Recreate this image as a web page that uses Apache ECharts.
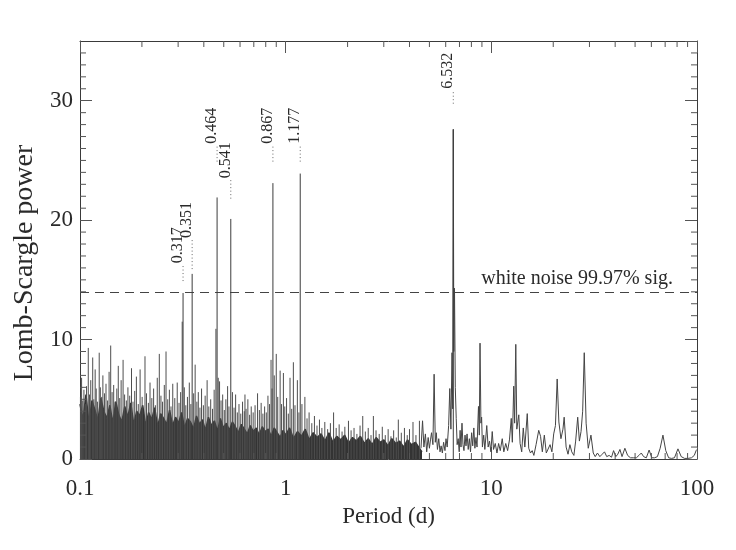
<!DOCTYPE html>
<html><head><meta charset="utf-8">
<script src="https://cdn.jsdelivr.net/npm/echarts@6/dist/echarts.min.js"></script>
<style>html,body{margin:0;padding:0;background:#fff}#c{width:736px;height:550px}</style>
</head><body><div id="c"></div>
<script>
// ---------------- data ----------------
const xTickLabels = ['0.1', '1', '10', '100'];
const yTickLabels = ['0', '10', '20', '30'];
const xMinorTicks = [0.2,0.3,0.4,0.5,0.6,0.7,0.8,0.9,2,3,4,5,6,7,8,9,20,30,40,50,60,70,80,90];
const yMinorTicks = [1,2,3,4,5,6,7,8,9,11,12,13,14,15,16,17,18,19,21,22,23,24,25,26,27,28,29,31,32,33,34];

// dense dark core of the periodogram (top of the solid band)
const bandPeriod = [0.1,0.1034,0.1069,0.1105,0.1143,0.1182,0.1222,0.1263,0.1306,0.1351,0.1397,0.1444,0.1493,0.1544,0.1597,0.1651,0.1707,0.1765,0.1825,0.1887,0.1951,0.2018,0.2086,0.2157,0.2231,0.2307,0.2385,0.2466,0.255,0.2637,0.2727,0.282,0.2915,0.3015,0.3117,0.3223,0.3333,0.3446,0.3563,0.3684,0.381,0.3939,0.4073,0.4212,0.4355,0.4503,0.4657,0.4815,0.4979,0.5148,0.5324,0.5505,0.5692,0.5886,0.6086,0.6293,0.6507,0.6729,0.6958,0.7194,0.7439,0.7692,0.7954,0.8225,0.8505,0.8794,0.9094,0.9403,0.9723,1.0,1.045,1.092,1.141,1.193,1.246,1.302,1.361,1.422,1.486,1.553,1.623,1.696,1.772,1.852,1.935,2.022,2.113,2.208,2.308,2.411,2.52,2.633,2.752,2.876,3.005,3.14,3.282,3.429,3.584,3.745,3.913,4.089,4.273,4.466,4.6];
const bandPower = [4.6,3.3,5.4,3.0,4.9,4.1,3.2,5.1,4.0,3.4,
  4.5,3.0,4.8,3.7,3.1,4.4,3.5,4.7,2.9,4.0,
  3.6,4.5,2.8,3.9,3.3,4.3,2.7,3.8,3.4,2.9,
  4.1,2.8,3.5,3.0,3.9,2.6,3.4,3.1,2.5,3.6,
  2.9,3.3,2.4,3.5,2.8,3.2,2.3,3.4,2.6,3.0,
  2.4,3.1,2.7,2.2,2.9,2.5,2.1,2.8,2.3,2.6,
  2.0,2.7,2.3,2.5,1.9,2.6,2.2,1.8,2.4,
  2.0,2.6,1.7,2.3,1.9,2.5,1.6,2.2,1.8,2.1,
  1.5,2.2,1.4,1.9,1.6,2.0,1.3,1.8,1.5,1.9,
  1.3,1.7,1.2,1.8,1.4,1.6,1.1,1.7,1.3,1.5,
  1.0,1.6,1.2,1.4,0.9,0.6];

// individual noise spikes above the band
const noisePeriod = [0.1005,0.1018,0.1031,0.1045,0.1062,0.1076,0.1097,0.1112,0.1128,0.1153,0.1167,0.1185,0.1199,0.1215,0.124,0.1256,0.1275,0.1292,0.1315,0.1338,0.1362,0.1385,0.141,0.1432,0.1458,0.148,0.151,0.1535,0.156,0.1585,0.162,0.1648,0.168,0.171,0.1745,0.178,0.181,0.1845,0.188,0.192,0.196,0.2005,0.207,0.2105,0.215,0.219,0.2235,0.228,0.2325,0.2375,0.243,0.2475,0.252,0.257,0.262,0.267,0.272,0.277,0.2825,0.289,0.297,0.303,0.3085,0.314,0.3215,0.327,0.333,0.34,0.346,0.357,0.363,0.37,0.376,0.383,0.39,0.398,0.406,0.415,0.423,0.432,0.441,0.449,0.458,0.47,0.477,0.485,0.494,0.503,0.512,0.522,0.53,0.551,0.561,0.571,0.582,0.593,0.605,0.617,0.629,0.634,0.642,0.655,0.668,0.68,0.695,0.71,0.73,0.745,0.76,0.775,0.79,0.805,0.82,0.835,0.849,0.858,0.88,0.9,0.915,0.94,0.955,0.975,0.99,1.01,1.03,1.05,1.07,1.09,1.11,1.14,1.16,1.2,1.24,1.27,1.3,1.34,1.38,1.42,1.46,1.5,1.55,1.6,1.65,1.71,1.76,1.82,1.88,1.94,2.02,2.08,2.15,2.22,2.3,2.37,2.44,2.52,2.6,2.67,2.75,2.85,2.95,3.05,3.15,3.25,3.35,3.45,3.53,3.65,3.78,3.9,4.0,4.16,4.3,4.47];
const noisePower = [5.2,6.8,4.9,5.8,4.6,6.1,9.3,5.4,6.6,8.5,5.0,7.5,5.9,4.8,8.9,6.0,5.2,7.0,5.5,6.3,4.9,7.3,9.5,5.6,6.2,4.8,5.9,7.8,5.1,6.6,8.3,5.4,4.9,6.0,5.3,7.6,4.8,5.7,6.9,4.6,7.5,5.2,8.6,5.5,4.7,6.4,5.1,5.9,4.5,6.8,8.8,5.3,4.8,6.2,9.0,5.0,5.8,4.4,6.3,5.1,6.4,4.7,5.6,11.5,6.0,4.5,5.2,6.4,4.6,5.5,7.9,4.8,5.6,4.3,5.9,4.5,5.3,6.6,4.4,5.0,4.2,5.8,10.9,6.8,6.5,4.9,5.4,4.1,5.0,6.1,4.4,5.6,4.3,5.4,3.9,4.6,3.8,4.8,4.0,5.4,4.2,5.0,3.7,4.4,3.9,4.5,5.5,4.1,4.7,3.8,4.4,3.9,5.3,4.6,8.3,5.9,7.0,8.8,5.2,7.4,4.6,7.2,4.4,5.1,3.8,6.8,4.2,8.1,4.5,6.6,3.9,4.6,5.2,3.4,3.9,3.0,3.6,2.8,3.3,2.6,3.1,2.5,3.0,3.9,2.6,2.9,2.3,2.7,3.2,2.4,2.6,2.1,2.8,3.6,2.3,2.6,2.0,3.6,2.4,2.1,2.7,2.0,2.5,1.9,2.4,1.8,3.3,2.2,2.6,2.0,2.5,3.1,2.0,3.2];

// long-period part, resolved as a line
const linePeriod = [4.55,4.63,4.7,4.78,4.85,4.93,5.0,5.06,5.12,5.2,5.27,5.34,5.4,5.47,5.55,5.63,5.7,5.78,5.86,5.95,6.02,6.1,6.2,6.28,6.36,6.44,6.49,6.532,6.57,6.62,6.68,6.75,6.82,6.9,6.98,7.05,7.12,7.2,7.28,7.36,7.45,7.53,7.62,7.72,7.82,7.92,8.02,8.12,8.22,8.32,8.42,8.52,8.66,8.74,8.81,8.9,8.97,9.05,9.18,9.3,9.5,9.65,9.8,9.95,10.1,10.25,10.45,10.65,10.85,11.05,11.3,11.5,11.75,12.0,12.25,12.5,12.65,12.85,12.98,13.15,13.3,13.6,13.8,14.05,14.3,14.55,14.95,15.2,15.5,15.8,16.1,16.5,17.0,17.35,17.7,18.1,18.5,18.9,19.3,19.7,20.1,20.5,20.9,21.3,21.8,22.3,22.6,23.1,23.6,24.1,24.6,25.2,25.7,26.3,26.8,27.3,27.8,28.3,28.9,29.6,30.5,31.3,32.0,32.8,33.7,34.6,35.5,36.4,37.4,38.4,39.3,40.3,41.2,42.2,43.2,44.6,46.0,47.5,49.0,50.7,52.2,53.6,55.0,56.7,58.5,60.3,62.2,64.2,66.2,68.3,70.5,72.8,75.2,77.7,80.8,83.8,87.0,90.5,94.0,97.0,99.0,100];
const linePower = [0.9,3.2,1.0,2.1,0.6,1.8,0.9,1.6,2.2,1.2,7.1,1.4,2.2,0.8,1.7,0.6,1.1,0.5,1.4,0.7,1.7,1.0,2.8,5.9,2.5,8.9,4.2,27.6,9.0,14.3,6.0,3.4,1.2,1.7,0.6,2.4,1.0,3.0,1.2,0.7,2.0,1.1,2.1,0.8,1.7,0.6,2.2,1.1,2.6,0.9,1.8,1.0,4.4,2.0,9.7,3.0,3.5,1.0,2.0,0.8,2.8,1.0,1.5,0.6,2.3,0.8,1.3,0.5,1.3,0.7,1.7,0.6,1.3,0.7,1.6,3.4,1.4,6.1,3.0,9.6,2.5,3.7,1.3,0.6,2.6,1.0,3.8,0.9,0.5,0.7,0.3,1.2,2.4,1.9,0.6,2.0,0.5,0.6,1.2,0.6,2.1,2.8,6.7,3.1,1.7,2.5,3.5,1.0,0.4,1.2,0.6,0.3,1.5,3.5,1.5,2.3,4.0,8.9,3.0,0.9,2.0,0.5,0.2,0.5,0.2,0.4,0.6,0.2,0.3,0.15,0.7,0.2,0.4,0.8,0.2,0.9,0.3,0.1,0.1,0.1,0.3,0.5,0.2,0.1,0.75,0.1,0.1,0.2,0.9,2.0,0.7,0.1,0.05,0.1,0.85,0.2,0.05,0.05,0.1,0.3,0.7,0.8];

// labelled peaks
const peakPeriod = [0.317, 0.351, 0.464, 0.541, 0.867, 1.177, 6.532];
const peakPower  = [13.9, 15.5, 21.9, 20.1, 23.1, 23.9, 27.6];

const sigLevel = 14.0;
const sigText = 'white noise 99.97% sig.';
const xTitle = 'Period (d)';
const yTitle = 'Lomb-Scargle power';

// ---------------- layout (annotation placement) ----------------
const leaderFrom = [14.9, 15.9, 24.9, 21.8, 24.9, 24.9, 29.75];
const labelAt    = [16.4, 18.5, 26.4, 23.5, 26.4, 26.4, 31.0];
const sigTextAnchor = [76.4, 14.0];

const FONT = '"Liberation Serif", "Times New Roman", serif';
const TXT = '#2a2a2a';
const AX = '#3a3a3a';

const chart = echarts.init(document.getElementById('c'), null, {renderer: 'canvas'});

function fmtX(v) {
  for (const l of xTickLabels) {
    if (Math.abs(Math.log10(v) - Math.log10(parseFloat(l))) < 1e-6) return l;
  }
  return '';
}
function fmtY(v) {
  for (const l of yTickLabels) if (Math.abs(v - parseFloat(l)) < 1e-6) return l;
  return '';
}

const xBase = {
  type: 'log', logBase: 10, min: 0.1, max: 100,
  splitLine: {show: false},
  axisLine: {show: true, onZero: false, lineStyle: {color: AX, width: 1}},
  axisTick: {show: true, inside: true, length: 12, lineStyle: {color: '#555', width: 1}},
  minorTick: {show: false}
};
const yBase = {
  type: 'value', min: 0, max: 35, interval: 10,
  splitLine: {show: false},
  axisLine: {show: true, onZero: false, lineStyle: {color: AX, width: 1}},
  axisTick: {show: true, inside: true, length: 12, lineStyle: {color: '#555', width: 1}},
  minorTick: {show: false}
};

const option = {
  animation: false,
  backgroundColor: '#fff',
  grid: {left: 80, right: 39, top: 41, bottom: 91, containLabel: false},
  xAxis: [
    Object.assign({}, xBase, {
      position: 'bottom',
      axisLabel: {show: true, formatter: fmtX, fontFamily: FONT, fontSize: 23, color: TXT, margin: 18},
      name: xTitle, nameLocation: 'middle', nameGap: 46,
      nameTextStyle: {fontFamily: FONT, fontSize: 23, color: TXT}
    }),
    Object.assign({}, xBase, {position: 'top', axisLabel: {show: false}})
  ],
  yAxis: [
    Object.assign({}, yBase, {
      position: 'left',
      axisLabel: {show: true, formatter: fmtY, fontFamily: FONT, fontSize: 23, color: TXT, margin: 7, showMaxLabel: false},
      name: yTitle, nameLocation: 'middle', nameGap: 36,
      nameTextStyle: {fontFamily: FONT, fontSize: 28, color: TXT, padding: [0, 26, 0, 0]}
    }),
    Object.assign({}, yBase, {position: 'right', axisLabel: {show: false}})
  ],
  series: [
    {
      type: 'line', name: 'band', xAxisIndex: 0, yAxisIndex: 0,
      data: bandPeriod.map((p, i) => [p, bandPower[i]]),
      showSymbol: false, symbol: 'none',
      lineStyle: {color: '#333', width: 1.5},
      areaStyle: {color: '#333', opacity: 1},
      z: 2
    },
    {
      type: 'custom', name: 'spikes', xAxisIndex: 0, yAxisIndex: 0,
      data: noisePeriod.map((p, i) => [p, noisePower[i]]),
      encode: {x: 0, y: 1},
      renderItem: function (params, api) {
        const a = api.coord([api.value(0), api.value(1)]);
        const b = api.coord([api.value(0), 0]);
        return {type: 'line', shape: {x1: a[0], y1: a[1], x2: b[0], y2: b[1]},
                style: {stroke: '#4e4e4e', lineWidth: 1}};
      },
      z: 3
    },
    {
      type: 'line', name: 'long', xAxisIndex: 0, yAxisIndex: 0,
      data: linePeriod.map((p, i) => [p, linePower[i]]),
      showSymbol: false, symbol: 'none',
      lineStyle: {color: '#444', width: 1},
      markLine: {
        silent: true, symbol: 'none', animation: false,
        data: [{yAxis: sigLevel}],
        lineStyle: {type: [9, 6], color: '#444', width: 1},
        label: {show: false}
      },
      z: 4
    },
    {
      type: 'custom', name: 'peaks', xAxisIndex: 0, yAxisIndex: 0,
      data: peakPeriod.map((p, i) => [p, peakPower[i], leaderFrom[i], labelAt[i]]),
      encode: {x: 0, y: 1},
      renderItem: function (params, api) {
        const p = api.value(0);
        const top = api.coord([p, api.value(1)]);
        const base = api.coord([p, 0]);
        const l1 = api.coord([p, api.value(2)]);
        const l2 = api.coord([p, api.value(3) - 0.12]);
        const t = api.coord([p, api.value(3)]);
        const txt = peakPeriod[params.dataIndex].toFixed(3);
        return {type: 'group', children: [
          {type: 'line', shape: {x1: top[0], y1: top[1], x2: base[0], y2: base[1]},
           style: {stroke: '#3c3c3c', lineWidth: 1}},
          {type: 'line', shape: {x1: l1[0], y1: l1[1], x2: l2[0], y2: l2[1]},
           style: {stroke: '#666', lineWidth: 1, lineDash: [1, 2.5]}},
          {type: 'text', x: t[0] + 3, y: t[1], rotation: Math.PI / 2,
           style: {text: txt, fontFamily: FONT, fontSize: 16, fill: TXT,
                   align: 'left', verticalAlign: 'bottom',
                   textAlign: 'left', textVerticalAlign: 'bottom'}}
        ]};
      },
      z: 5
    },
    {
      type: 'custom', name: 'sigtext', xAxisIndex: 0, yAxisIndex: 0,
      data: [sigTextAnchor],
      encode: {x: 0, y: 1},
      renderItem: function (params, api) {
        const a = api.coord([api.value(0), api.value(1)]);
        return {type: 'text', x: a[0], y: a[1] - 3,
                style: {text: sigText, fontFamily: FONT, fontSize: 20, fill: TXT,
                        align: 'right', verticalAlign: 'bottom',
                        textAlign: 'right', textVerticalAlign: 'bottom'}};
      },
      z: 6
    },
    {
      type: 'custom', name: 'xminor', xAxisIndex: 0, yAxisIndex: 0,
      data: xMinorTicks.map(v => [v, 0]),
      encode: {x: 0, y: 1},
      clip: false,
      renderItem: function (params, api) {
        const cs = params.coordSys;
        const x = api.coord([api.value(0), 0])[0];
        const bot = cs.y + cs.height, top = cs.y;
        return {type: 'group', children: [
          {type: 'line', shape: {x1: x, y1: bot, x2: x, y2: bot - 6}, style: {stroke: '#555', lineWidth: 1}},
          {type: 'line', shape: {x1: x, y1: top, x2: x, y2: top + 6}, style: {stroke: '#555', lineWidth: 1}}
        ]};
      },
      z: 7
    },
    {
      type: 'custom', name: 'yminor', xAxisIndex: 0, yAxisIndex: 0,
      data: yMinorTicks.map(v => [1, v]),
      encode: {x: 0, y: 1},
      clip: false,
      renderItem: function (params, api) {
        const cs = params.coordSys;
        const y = api.coord([1, api.value(1)])[1];
        const l = cs.x, r = cs.x + cs.width;
        return {type: 'group', children: [
          {type: 'line', shape: {x1: l, y1: y, x2: l + 6, y2: y}, style: {stroke: '#555', lineWidth: 1}},
          {type: 'line', shape: {x1: r, y1: y, x2: r - 6, y2: y}, style: {stroke: '#555', lineWidth: 1}}
        ]};
      },
      z: 7
    }
  ]
};
chart.setOption(option);
</script>
</body></html>
